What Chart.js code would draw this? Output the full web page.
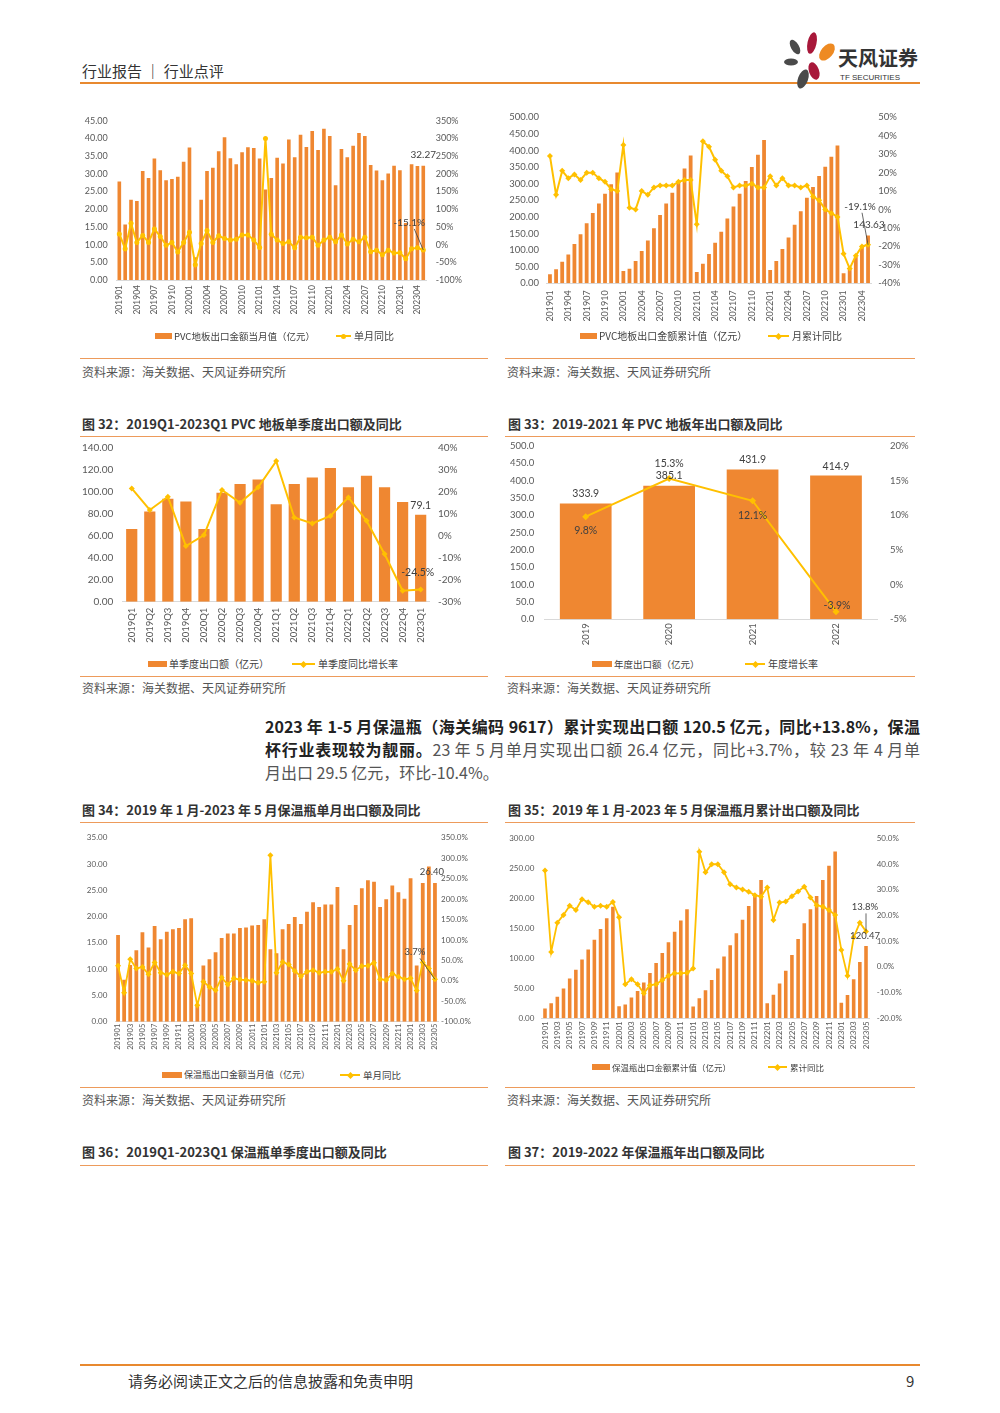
<!DOCTYPE html>
<html>
<head>
<meta charset="utf-8">
<script src="https://cdn.jsdelivr.net/npm/chart.js@4.4.0/dist/chart.umd.min.js"></script>
<style>
html,body{margin:0;padding:0;background:#fff}
#page{position:relative;width:1000px;height:1413px;overflow:hidden;font-family:"Noto Sans CJK SC","Noto Sans",sans-serif;color:#333}
.abs{position:absolute}
.hline{position:absolute;height:1px;background:#ED9B5B}
.title{position:absolute;font-size:13px;font-weight:700;color:#333;white-space:nowrap;line-height:16px}
.src{position:absolute;font-size:12px;color:#555;white-space:nowrap;line-height:14px}
.lg{position:absolute;white-space:nowrap;color:#404040;line-height:12px}
.sw{position:absolute;height:6px;background:#EF8731}
.ln{position:absolute;height:2px;background:#FFC000}
.mk{position:absolute;width:5px;height:5px;background:#FFC000}
.para{position:absolute;font-size:16px;line-height:23px;color:#555}
.para div{text-align:justify;text-align-last:justify}
.para b{color:#222;font-weight:700}
canvas{position:absolute}
</style>
</head>
<body>
<div id="page">

<!-- header -->
<div class="abs" style="left:82px;top:60px;font-size:15px;color:#333;white-space:nowrap">行业报告 ｜ 行业点评</div>
<div class="abs" style="left:80px;top:82px;width:840px;height:2px;background:#E8892F"></div>
<svg class="abs" style="left:782px;top:30px" width="145" height="62">
  <ellipse cx="13" cy="17" rx="4" ry="8" transform="rotate(-30 13 17)" fill="#4a4a4a"/>
  <ellipse cx="30" cy="13" rx="4.5" ry="11" transform="rotate(12 30 13)" fill="#A8183A"/>
  <ellipse cx="45" cy="22" rx="6" ry="10" transform="rotate(40 45 22)" fill="#EE8A22"/>
  <ellipse cx="9" cy="32" rx="7" ry="3.5" fill="#4a4a4a"/>
  <ellipse cx="32" cy="41" rx="5" ry="9" transform="rotate(-20 32 41)" fill="#A8183A"/>
  <ellipse cx="21" cy="49" rx="5" ry="10" transform="rotate(20 21 49)" fill="#4a4a4a"/>
  <text x="56" y="36" font-family="Noto Sans CJK SC" font-weight="700" font-size="20" fill="#333">天风证券</text>
  <text x="58" y="50" font-family="Liberation Sans Narrow, Liberation Sans" font-size="8" fill="#333">TF SECURITIES</text>
</svg>

<!-- row 1 -->
<canvas id="c1" width="418" height="222" style="left:72px;top:110px"></canvas>
<canvas id="c2" width="423" height="222" style="left:497px;top:110px"></canvas>
<div class="hline" style="left:80px;top:358px;width:408px"></div>
<div class="hline" style="left:505px;top:358px;width:410px"></div>
<div class="src" style="left:82px;top:365px">资料来源：海关数据、天风证券研究所</div>
<div class="src" style="left:507px;top:365px">资料来源：海关数据、天风证券研究所</div>

<!-- row 2 -->
<div class="title" style="left:82px;top:416px">图 32：2019Q1-2023Q1 PVC 地板单季度出口额及同比</div>
<div class="title" style="left:508px;top:416px">图 33：2019-2021 年 PVC 地板年出口额及同比</div>
<div class="hline" style="left:80px;top:436px;width:408px"></div>
<div class="hline" style="left:505px;top:436px;width:410px"></div>
<canvas id="c3" width="418" height="210" style="left:72px;top:440px"></canvas>
<canvas id="c4" width="423" height="212" style="left:497px;top:440px"></canvas>
<div class="hline" style="left:80px;top:676px;width:408px"></div>
<div class="hline" style="left:505px;top:676px;width:410px"></div>
<div class="src" style="left:82px;top:681px">资料来源：海关数据、天风证券研究所</div>
<div class="src" style="left:507px;top:681px">资料来源：海关数据、天风证券研究所</div>

<!-- paragraph -->
<div class="para" style="left:265px;top:715px;width:655px">
  <div><b>2023 年 1-5 月保温瓶（海关编码 9617）累计实现出口额 120.5 亿元，同比+13.8%，保温</b></div>
  <div><b>杯行业表现较为靓丽。</b>23 年 5 月单月实现出口额 26.4 亿元，同比+3.7%，较 23 年 4 月单</div>
  <div style="text-align-last:left">月出口 29.5 亿元，环比-10.4%。</div>
</div>

<!-- row 3 -->
<div class="title" style="left:82px;top:802px">图 34：2019 年 1 月-2023 年 5 月保温瓶单月出口额及同比</div>
<div class="title" style="left:508px;top:802px">图 35：2019 年 1 月-2023 年 5 月保温瓶月累计出口额及同比</div>
<div class="hline" style="left:80px;top:822px;width:408px"></div>
<div class="hline" style="left:505px;top:822px;width:410px"></div>
<canvas id="c5" width="418" height="232" style="left:72px;top:830px"></canvas>
<canvas id="c6" width="423" height="232" style="left:497px;top:830px"></canvas>
<div class="hline" style="left:80px;top:1087px;width:408px"></div>
<div class="hline" style="left:505px;top:1087px;width:410px"></div>
<div class="src" style="left:82px;top:1093px">资料来源：海关数据、天风证券研究所</div>
<div class="src" style="left:507px;top:1093px">资料来源：海关数据、天风证券研究所</div>

<!-- row 4 titles -->
<div class="title" style="left:82px;top:1144px">图 36：2019Q1-2023Q1 保温瓶单季度出口额及同比</div>
<div class="title" style="left:508px;top:1144px">图 37：2019-2022 年保温瓶年出口额及同比</div>
<div class="hline" style="left:80px;top:1165px;width:408px"></div>
<div class="hline" style="left:505px;top:1165px;width:410px"></div>

<!-- footer -->
<div class="abs" style="left:80px;top:1364px;width:840px;height:2px;background:#E8892F"></div>
<div class="abs" style="left:128px;top:1370px;font-size:15px;color:#333;white-space:nowrap">请务必阅读正文之后的信息披露和免责申明</div>
<div class="abs" style="left:906px;top:1370px;font-size:15px;color:#333">9</div>

</div>

<script>
// categories
var monthLabels = ['201901','201902','201903','201904','201905','201906','201907','201908','201909','201910','201911','201912',
  '202001','202002','202003','202004','202005','202006','202007','202008','202009','202010','202011','202012',
  '202101','202102','202103','202104','202105','202106','202107','202108','202109','202110','202111','202112',
  '202201','202202','202203','202204','202205','202206','202207','202208','202209','202210','202211','202212',
  '202301','202302','202303','202304','202305'];
var quarterLabels = ['2019Q1','2019Q2','2019Q3','2019Q4','2020Q1','2020Q2','2020Q3','2020Q4','2021Q1','2021Q2','2021Q3','2021Q4','2022Q1','2022Q2','2022Q3','2022Q4','2023Q1'];
var yearLabels = ['2019','2020','2021','2022'];

// tick labels shown on the monthly axes
var ticksEvery3 = ['201901','201904','201907','201910','202001','202004','202007','202010','202101','202104','202107','202110','202201','202204','202207','202210','202301','202304'];
var ticksEvery2 = ['201901','201903','201905','201907','201909','201911','202001','202003','202005','202007','202009','202011','202101','202103','202105','202107','202109','202111','202201','202203','202205','202207','202209','202211','202301','202303','202305'];

// PVC flooring
var pvcMonthly = [27.8,15.7,22.7,22.3,30.8,28.8,34.3,31.0,28.2,28.5,29.2,33.4,
  37.4,6.4,22.7,30.8,31.7,36.4,40.3,34.4,32.7,36.1,37.5,37.3,
  34.3,25.6,28.8,34.5,32.9,39.7,34.7,41.0,37.6,42.1,36.7,42.7,
  40.7,26.8,37.0,34.7,37.9,41.5,40.7,32.5,30.9,28.2,30.1,32.3,
  31.0,16.1,32.7,32.2,32.27];
var pvcMonthlyYoY = [30,-12,60,6,26,6,44,23,-2,6,-21,6,
  35,-57,3,40,6,25,17,13,15,27,27,13,
  -8,300,29,13,3,8,-9,21,19,21,-2,13,
  21,8,27,2,15,8,21,-20,-16,-29,-16,-24,
  -23,-40,-12,-9,-15.1];
var pvcCum = [27,42,65,87,118,148,181,212,240,270,298,333.9,
  37,44,67,97,129,166,206,240,273,308,346,385.1,
  34,59,88,122,155,195,231,270,308,350,387,431.9,
  40,67,103,138,176,217,258,290,323,351,381,414.9,
  30,46,79,111,143.63];
var pvcCumYoY = [29,8,21,17,19,16,20,20,17,15,11,10,
  35,1,0,10,8,12,13,13,13,15,16,16,
  -8,37,34,27,21,18,12,13,13,14,12,12,
  18,13,17,13,13,12,13,7,5,0,-2,-4,
  -24,-32,-25,-20,-19.1];
var pvcQuarter = [66,82,93.6,91,66,99,107,111,88.5,107,113,121.5,104,114.5,104,90.6,79.1];
var pvcQuarterYoY = [21.5,11.7,17.7,-4.7,0.3,20.8,15,22,33.9,8.3,5.6,9,17.4,6.8,-8.3,-25,-24.5];
var pvcYear = [333.9,385.1,431.9,414.9];
var pvcYearYoY = [9.8,15.3,12.1,-3.9];

// vacuum flasks
var flaskMonthly = [16.5,8.0,10.8,13.6,17.0,14.1,18.2,15.7,17.1,17.6,17.8,19.5,
  19.7,3.4,10.7,11.9,13.2,15.9,16.8,16.8,17.8,17.9,18.3,18.4,
  19.5,13.8,13.0,17.6,18.6,19.9,18.6,20.9,22.7,21.8,22.3,22.3,
  25.6,13.8,18.4,22.2,25.4,26.9,26.6,21.8,23.3,25.9,24.6,23.4,
  27.3,10.7,26.4,29.5,26.40];
var flaskMonthlyYoY = [37,-29,53,30,34,16,45,20,15,22,18,38,
  18,-60,-2,-15,-23,8,-9,6,3,2,0,-5,
  -2,307,20,46,40,24,11,22,26,20,22,22,
  29,0,41,26,36,37,44,4,2,18,10,4,
  6,-24,45,30,3.7];
var flaskCum = [16.5,25,36,49.5,66.5,81,98,114.5,131,149,166.7,186,
  20,23,34.5,45.5,59.5,75.5,92,109,126.7,144.4,162.8,181.7,
  19.5,33.3,46.7,64,82.8,102.8,121.7,141.7,164.4,187.2,205.6,230.6,
  25,39.4,57.8,79.4,105.6,132.2,158.3,181.7,203.9,230.6,254.4,277.8,
  26.1,38.9,65,93.9,120.47];
var flaskCumYoY = [37.5,5.8,17.2,20.2,23.8,22.1,26.3,25.1,23.4,23.8,23.4,25.2,
  19.3,-6.8,-4.8,-6.8,-10.3,-7.1,-6.8,-5.1,-3.5,-2.5,-2.5,-2.3,
  -0.6,44.8,36.8,39.9,39.9,36.8,32.1,30.9,30.1,29.2,27.9,27.3,
  30.9,18.2,25.0,25.4,27.5,29.3,31.2,27.0,24.0,23.4,22.1,20.2,
  6.6,-3.5,11.5,17.2,13.8];

var BAR = '#EF8731', LINE = '#FFC000', TICK = '#595959';

// value labels drawn next to points / bar tops
var notes = {
  id: 'notes',
  afterDatasetsDraw: function(chart, args, opts) {
    var ctx = chart.ctx;
    (opts.items || []).forEach(function(it) {
      var el = chart.getDatasetMeta(it.ds).data[it.i];
      var x = el.x + (it.dx || 0), y = el.y + (it.dy || 0);
      ctx.save();
      if (it.lead) {
        ctx.strokeStyle = '#404040';
        ctx.lineWidth = 0.8;
        ctx.beginPath();
        ctx.moveTo(x + it.lead[0], y + it.lead[1]);
        ctx.lineTo(el.x, el.y);
        ctx.stroke();
      }
      ctx.font = (opts.size || 10) + 'px Lato';
      ctx.fillStyle = '#404040';
      ctx.textAlign = 'center';
      ctx.textBaseline = 'middle';
      ctx.fillText(it.text, x, y);
      ctx.restore();
    });
  }
};

function makeChart(id, g, c) {
  var shown = c.shown;
  return new Chart(document.getElementById(id), {
    type: 'bar',
    data: {
      labels: c.labels,
      datasets: [
        { type: 'bar', data: c.bars, yAxisID: 'y', backgroundColor: BAR,
          categoryPercentage: 1, barPercentage: g.bp, order: 1 },
        { type: 'line', data: c.line, yAxisID: 'y1', borderColor: LINE, borderWidth: g.lw,
          pointStyle: g.marker, pointRadius: g.pr, pointBackgroundColor: LINE,
          pointBorderColor: LINE, pointBorderWidth: 0, tension: 0, order: 0 }
      ]
    },
    options: {
      responsive: false,
      animation: false,
      devicePixelRatio: 1,
      layout: { padding: { top: g.top, left: 0, right: 0, bottom: 0 } },
      plugins: { legend: { display: false }, tooltip: { enabled: false },
        notes: { items: c.notes, size: g.nfs } },
      scales: {
        x: {
          grid: { display: false, drawTicks: false },
          border: { display: true, color: '#d9d9d9' },
          ticks: { autoSkip: false, minRotation: 90, maxRotation: 90, padding: g.xpad,
            color: TICK, font: { family: 'Lato', size: g.xfs },
            callback: function(v) { var l = this.getLabelForValue(v); return (!shown || shown.indexOf(l) >= 0) ? l : ''; } },
          afterFit: function(s) { s.height = g.xH; s.paddingLeft = 0; s.paddingRight = 0; }
        },
        y: {
          position: 'left', min: c.yMin, max: c.yMax,
          grid: { display: false, drawTicks: false }, border: { display: false },
          ticks: { stepSize: c.yStep, padding: g.lpad, color: TICK, font: { family: 'Lato', size: g.yfs },
            callback: c.yFmt },
          afterFit: function(s) { s.width = g.leftW; s.paddingTop = 0; s.paddingBottom = 0; }
        },
        y1: {
          position: 'right', min: c.rMin, max: c.rMax,
          grid: { display: false, drawTicks: false }, border: { display: false },
          ticks: { stepSize: c.rStep, padding: g.rpad, color: TICK, font: { family: 'Lato', size: g.yfs },
            callback: c.rFmt },
          afterFit: function(s) { s.width = g.rightW; s.paddingTop = 0; s.paddingBottom = 0; }
        }
      }
    },
    plugins: [notes]
  });
}

function f2(v) { return v.toFixed(2); }
function f1(v) { return v.toFixed(1); }
function pct(v) { return v + '%'; }
function pct1(v) { return v.toFixed(1) + '%'; }

// PVC monthly
makeChart('c1',
  { top: 10.7, leftW: 44.4, rightW: 63.8, xH: 52, lpad: 8.7, rpad: 9.5, xpad: 5, xfs: 8.5, yfs: 9,
    bp: 0.62, lw: 2, marker: 'circle', pr: 2.5, nfs: 10 },
  { labels: monthLabels, shown: ticksEvery3, bars: pvcMonthly, line: pvcMonthlyYoY,
    yMin: 0, yMax: 45, yStep: 5, yFmt: f2, rMin: -100, rMax: 350, rStep: 50, rFmt: pct,
    notes: [ { ds: 0, i: 52, text: pvcMonthly[52].toFixed(2), dx: 0, dy: -11 },
             { ds: 1, i: 52, text: pvcMonthlyYoY[52].toFixed(1) + '%', dx: -14, dy: -27, lead: [5, 6] } ] });

// PVC cumulative
makeChart('c2',
  { top: 7.3, leftW: 49.9, rightW: 48.9, xH: 48.7, lpad: 7.9, rpad: 7.2, xpad: 7, xfs: 9, yfs: 9.5,
    bp: 0.62, lw: 2, marker: 'rectRot', pr: 3, nfs: 10 },
  { labels: monthLabels, shown: ticksEvery3, bars: pvcCum, line: pvcCumYoY,
    yMin: 0, yMax: 500, yStep: 50, yFmt: f2, rMin: -40, rMax: 50, rStep: 10, rFmt: pct,
    notes: [ { ds: 0, i: 52, text: pvcCum[52].toFixed(2), dx: 1, dy: -11 },
             { ds: 1, i: 52, text: pvcCumYoY[52].toFixed(1) + '%', dx: -8, dy: -38, lead: [2, 6] } ] });

// PVC quarterly
makeChart('c3',
  { top: 7.7, leftW: 50.7, rightW: 60.3, xH: 48.3, lpad: 9.4, rpad: 8.3, xpad: 6, xfs: 9.5, yfs: 10,
    bp: 0.62, lw: 2, marker: 'rectRot', pr: 3, nfs: 10.5 },
  { labels: quarterLabels, shown: null, bars: pvcQuarter, line: pvcQuarterYoY,
    yMin: 0, yMax: 140, yStep: 20, yFmt: f2, rMin: -30, rMax: 40, rStep: 10, rFmt: pct,
    notes: [ { ds: 0, i: 16, text: pvcQuarter[16].toFixed(1), dx: 0, dy: -9 },
             { ds: 1, i: 16, text: pvcQuarterYoY[16].toFixed(1) + '%', dx: -3, dy: -17 } ] });

// PVC yearly
makeChart('c4',
  { top: 6, leftW: 47, rightW: 42.3, xH: 32.7, lpad: 9.7, rpad: 12.3, xpad: 4, xfs: 9.5, yfs: 9.5,
    bp: 0.62, lw: 2, marker: 'rectRot', pr: 3.5, nfs: 10.5 },
  { labels: yearLabels, shown: null, bars: pvcYear, line: pvcYearYoY,
    yMin: 0, yMax: 500, yStep: 50, yFmt: f1, rMin: -5, rMax: 20, rStep: 5, rFmt: pct,
    notes: [ { ds: 0, i: 0, text: pvcYear[0].toFixed(1), dy: -10 },
             { ds: 0, i: 1, text: pvcYear[1].toFixed(1), dy: -10 },
             { ds: 0, i: 2, text: pvcYear[2].toFixed(1), dy: -10 },
             { ds: 0, i: 3, text: pvcYear[3].toFixed(1), dy: -9 },
             { ds: 1, i: 0, text: pvcYearYoY[0].toFixed(1) + '%', dy: 14 },
             { ds: 1, i: 1, text: pvcYearYoY[1].toFixed(1) + '%', dy: -15 },
             { ds: 1, i: 2, text: pvcYearYoY[2].toFixed(1) + '%', dy: 15 },
             { ds: 1, i: 3, text: pvcYearYoY[3].toFixed(1) + '%', dx: 1, dy: -6 } ] });

// flask monthly
makeChart('c5',
  { top: 7.7, leftW: 43, rightW: 52, xH: 40.3, lpad: 7.7, rpad: 3, xpad: 2, xfs: 7.5, yfs: 8,
    bp: 0.62, lw: 1.8, marker: 'rectRot', pr: 3, nfs: 9.5 },
  { labels: monthLabels, shown: ticksEvery2, bars: flaskMonthly, line: flaskMonthlyYoY,
    yMin: 0, yMax: 35, yStep: 5, yFmt: f2, rMin: -100, rMax: 350, rStep: 50, rFmt: pct1,
    notes: [ { ds: 0, i: 52, text: flaskMonthly[52].toFixed(2), dx: -3, dy: -11 },
             { ds: 1, i: 52, text: flaskMonthlyYoY[52].toFixed(1) + '%', dx: -20, dy: -27, lead: [5, 6] } ] });

// flask cumulative
makeChart('c6',
  { top: 8.3, leftW: 44.9, rightW: 50.9, xH: 43.7, lpad: 7.6, rpad: 7.6, xpad: 3, xfs: 8, yfs: 8,
    bp: 0.58, lw: 1.8, marker: 'rectRot', pr: 3, nfs: 9.5 },
  { labels: monthLabels, shown: ticksEvery2, bars: flaskCum, line: flaskCumYoY,
    yMin: 0, yMax: 300, yStep: 50, yFmt: f2, rMin: -20, rMax: 50, rStep: 10, rFmt: pct1,
    notes: [ { ds: 0, i: 52, text: flaskCum[52].toFixed(2), dx: -1, dy: -10 },
             { ds: 1, i: 52, text: flaskCumYoY[52].toFixed(1) + '%', dx: -1, dy: -24, lead: [1, 6] } ] });

// legends (HTML)
function legend(y, sx, sw, barText, bfs, lx, lw, lineText, lfs, marker) {
  var page = document.getElementById('page');
  function add(cls, css, txt) {
    var d = document.createElement('div');
    d.className = cls;
    d.style.cssText = css;
    if (txt) d.textContent = txt;
    page.appendChild(d);
  }
  add('sw', 'left:' + sx + 'px;top:' + (y - 3) + 'px;width:' + sw + 'px');
  add('lg', 'left:' + (sx + sw + 2) + 'px;top:' + (y - 6) + 'px;font-size:' + bfs + 'px', barText);
  add('ln', 'left:' + lx + 'px;top:' + (y - 1) + 'px;width:' + lw + 'px');
  var mc = marker === 'circle' ? 'border-radius:50%;' : 'transform:rotate(45deg);';
  add('mk', 'left:' + (lx + lw / 2 - 2.5) + 'px;top:' + (y - 2.5) + 'px;' + mc);
  add('lg', 'left:' + (lx + lw + 3) + 'px;top:' + (y - 6) + 'px;font-size:' + lfs + 'px', lineText);
}
legend(336, 155, 17, 'PVC地板出口金额当月值（亿元）', 9.5, 336, 15, '单月同比', 10, 'circle');
legend(336, 580, 17, 'PVC地板出口金额累计值（亿元）', 10, 768, 21, '月累计同比', 10, 'diamond');
legend(664, 148, 19, '单季度出口额（亿元）', 10, 292, 23, '单季度同比增长率', 10, 'diamond');
legend(664, 592, 20, '年度出口额（亿元）', 9.5, 745, 20, '年度增长率', 10, 'diamond');
legend(1075, 162, 20, '保温瓶出口金额当月值（亿元）', 9, 340, 20, '单月同比', 9.5, 'diamond');
legend(1067, 592, 18, '保温瓶出口金额累计值（亿元）', 8.5, 768, 19, '累计同比', 8.5, 'diamond');
</script>
</body>
</html>
